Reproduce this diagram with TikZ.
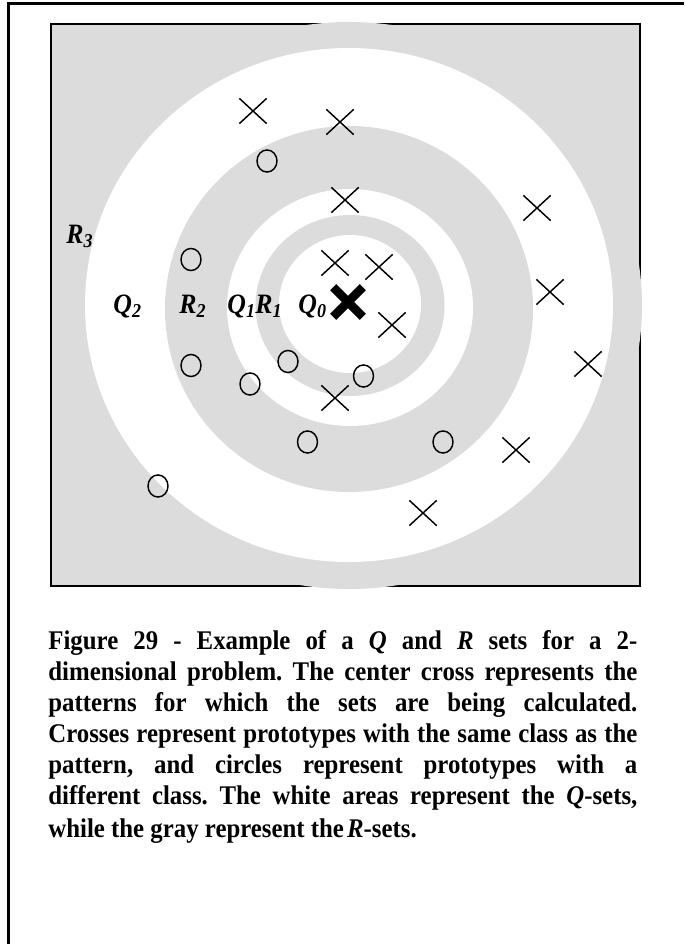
\documentclass[tikz,border=0pt]{standalone}
\usepackage{fontspec}
\setmainfont{Liberation Serif}
\newfontfamily\capfont{Liberation Serif}[FakeStretch=0.92]
\usetikzlibrary{shapes.geometric,shapes.misc}
\definecolor{setgray}{RGB}{220,220,220}

\begin{document}
\begin{tikzpicture}[x=0.48bp, y=-0.48bp,
    xmark/.style={cross out, draw, line width=0.7bp, inner sep=0pt,
        minimum width=12.4bp, minimum height=11.4bp},
    omark/.style={ellipse, draw, line width=0.7bp, inner sep=0pt,
        minimum width=9.6bp, minimum height=10.6bp},
    setlabel/.style={anchor=base west, inner sep=0pt,
        font=\capfont\fontsize{13.5}{15}\selectfont\bfseries\itshape}]
    \useasboundingbox (0,0) rectangle (684,944);
    % Vẽ khung ngoài
    \draw[line width=1.44bp] (8.5,944) -- (8.5,4) -- (684,4);

    % Vẽ nền xám và các vành Q, R
    \filldraw[fill=setgray, line width=1bp] (51,24) rectangle (640,586);
    \fill[setgray] (349,305.5) ellipse [x radius=293, y radius=283.5];
    \fill[white]   (349,305)   ellipse [x radius=264, y radius=257];
    \fill[setgray] (349,309)   ellipse [x radius=184, y radius=183];
    \fill[white]   (350,307.5) ellipse [x radius=123, y radius=118.5];
    \fill[setgray] (350,305.5) ellipse [x radius=94.5, y radius=90.5];
    \fill[white]   (350,304)   ellipse [x radius=71, y radius=69];

    % Các nguyên mẫu cùng lớp (dấu x)
    \foreach \p [count=\i] in {(253,111), (340,122), (345,200), (537,208),
        (335,263), (379,267), (550,292), (392,325), (588,364), (335,398),
        (516,450), (423,513)}
        \node[xmark] (x\i) at \p {};
    % Các nguyên mẫu khác lớp (vòng tròn)
    \foreach \p [count=\i] in {(267,161), (191,259.5), (191,365.5),
        (288,361.5), (250,384), (363.5,376), (307.5,442), (443,442), (158,486)}
        \node[omark] (o\i) at \p {};
    % Mẫu ở tâm
    \node[cross out, draw, line width=4.2bp, minimum size=10bp, inner sep=0pt]
        (pat) at (348,302) {};

    % Nhãn các tập
    \node[setlabel] (r3) at (66,243) {R\textsubscript{3}};
    \node[setlabel] (q2) at (113,313) {Q\textsubscript{2}};
    \node[setlabel] (r2) at (179,313) {R\textsubscript{2}};
    \node[setlabel] (q1) at (227,313) {Q\textsubscript{1}};
    \node[setlabel] (r1) at (255,313) {R\textsubscript{1}};
    \node[setlabel] (q0) at (298,313) {Q\textsubscript{0}};

    % Chú thích
    \node[anchor=base west, inner sep=0pt, text width=282.7bp, align=left,
        font=\capfont\fontsize{13}{15}\selectfont\bfseries] (caption) at (48,649) {%
        \frenchspacing\spaceskip=0pt \xspaceskip=0pt
        \makebox[\linewidth][s]{Figure 29 - Example of a \textit{Q} and \textit{R} sets for a 2-}\\
        \makebox[\linewidth][s]{dimensional problem. The center cross represents the}\\
        \makebox[\linewidth][s]{patterns for which the sets are being calculated.}\\
        \makebox[\linewidth][s]{Crosses represent prototypes with the same class as the}\\
        \makebox[\linewidth][s]{pattern, and circles represent prototypes with a}\\
        \makebox[\linewidth][s]{different class. The white areas represent the \textit{Q}-sets,}\\[0.9bp]
        while the gray represent the\kern1.5pt\textit{R}-sets.};
\end{tikzpicture}
\end{document}
